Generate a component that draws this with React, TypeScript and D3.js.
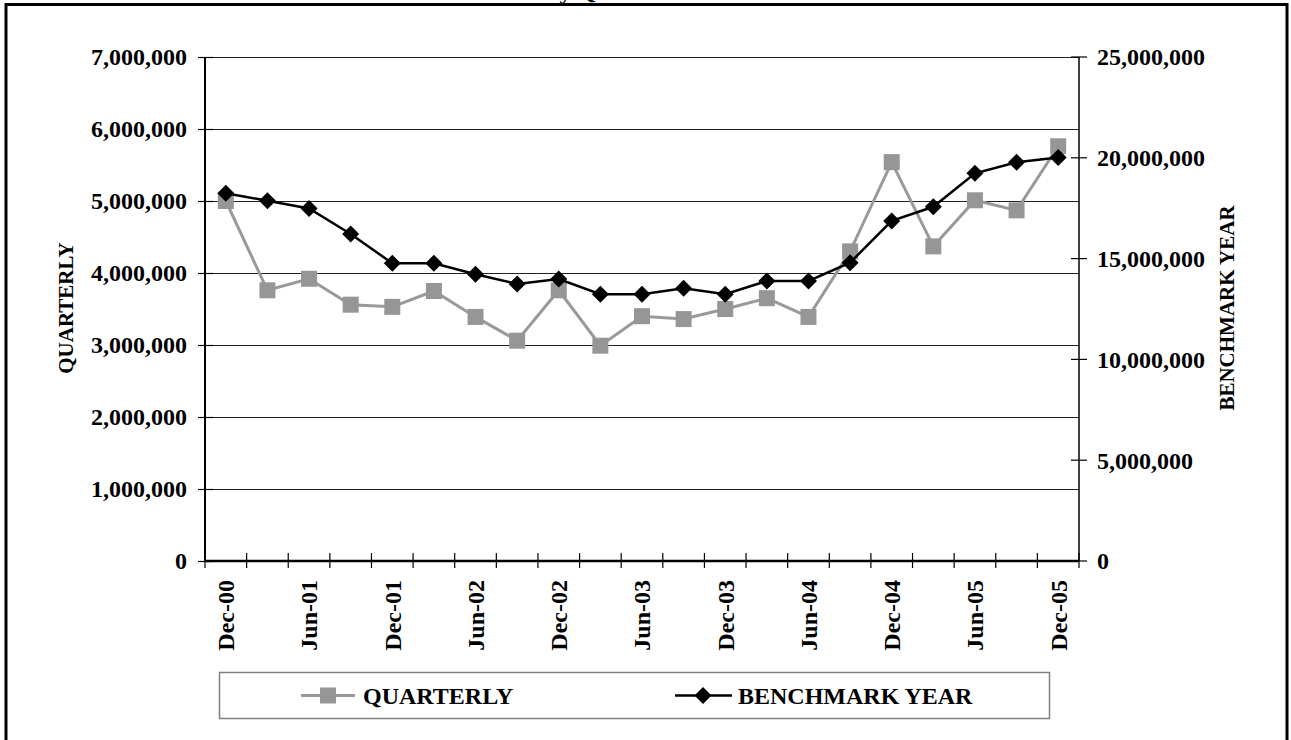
import React from "react";
import * as d3 from "d3";

const categories = [
  "Dec-00", "Mar-01", "Jun-01", "Sep-01", "Dec-01", "Mar-02", "Jun-02", "Sep-02",
  "Dec-02", "Mar-03", "Jun-03", "Sep-03", "Dec-03", "Mar-04", "Jun-04", "Sep-04",
  "Dec-04", "Mar-05", "Jun-05", "Sep-05", "Dec-05",
];
const quarterly = [
  5000000, 3760000, 3920000, 3560000, 3530000, 3750000, 3390000, 3060000,
  3760000, 2990000, 3400000, 3360000, 3500000, 3650000, 3390000, 4300000,
  5540000, 4370000, 5010000, 4870000, 5760000,
];
const benchmark = [
  18240000, 17870000, 17490000, 16220000, 14770000, 14770000, 14220000, 13740000,
  13990000, 13230000, 13230000, 13530000, 13230000, 13890000, 13890000, 14800000,
  16870000, 17570000, 19230000, 19780000, 20020000,
];
const leftTicks = [0, 1000000, 2000000, 3000000, 4000000, 5000000, 6000000, 7000000];
const rightTicks = [0, 5000000, 10000000, 15000000, 20000000, 25000000];
const xLabelEvery = 2;
const seriesNames = ["QUARTERLY", "BENCHMARK YEAR"];
const titleText = "Total Monthly QCEW";

const FONT = "'Liberation Serif', 'Times New Roman', serif";

export default function App() {
  const left = 205, right = 1079, top = 57, bottom = 561;
  const x = d3.scaleBand<string>().domain(categories).range([left, right]).paddingInner(0).paddingOuter(0);
  const yL = d3.scaleLinear().domain([0, 7000000]).range([bottom, top]);
  const yR = d3.scaleLinear().domain([0, 25000000]).range([bottom, top]);
  const cx = (c: string) => (x(c) as number) + x.bandwidth() / 2;
  const fmt = d3.format(",");

  const lineQ = d3.line<number>().x((_, i) => cx(categories[i])).y((v) => yL(v));
  const lineB = d3.line<number>().x((_, i) => cx(categories[i])).y((v) => yR(v));

  const boundaries = d3.range(categories.length + 1).map((i) => left + i * x.bandwidth());
  const diamond = (px: number, py: number, r: number) =>
    `M${px},${py - r}L${px + r},${py}L${px},${py + r}L${px - r},${py}Z`;

  const legendY = 695.5;

  return (
    <svg
      width={1291}
      height={740}
      style={{ position: "absolute", left: 0, top: 0, overflow: "visible", background: "#fff" }}
      fontFamily={FONT}
      fontWeight="bold"
    >
      <rect x={0} y={0} width={1291} height={740} fill="#fff" />
      {/* title mostly clipped at the top, as in the reference */}
      <text x={425} y={-1} fontSize={24} fill="#000">{titleText}</text>
      {/* outer frame */}
      <rect x={6} y={4.5} width={1281} height={800} fill="none" stroke="#000" strokeWidth={3} />

      {/* gridlines */}
      {leftTicks.filter((t) => t > 0).map((t) => (
        <line key={"g" + t} x1={left} x2={right} y1={Math.round(yL(t)) + 0.5} y2={Math.round(yL(t)) + 0.5}
          stroke="#222" strokeWidth={1} shapeRendering="crispEdges" />
      ))}

      {/* left axis */}
      <line x1={left} x2={left} y1={top} y2={bottom} stroke="#000" strokeWidth={2} />
      {leftTicks.map((t) => (
        <g key={"l" + t}>
          <line x1={198} x2={213} y1={Math.round(yL(t)) + 0.5} y2={Math.round(yL(t)) + 0.5} stroke="#000" strokeWidth={1.2} />
          <text x={187} y={yL(t)} dy="0.35em" textAnchor="end" fontSize={24}>{fmt(t)}</text>
        </g>
      ))}
      <text transform={`translate(66,308) rotate(-90)`} dy="0.35em" textAnchor="middle" fontSize={21}>
        {seriesNames[0]}
      </text>

      {/* right axis */}
      <line x1={right} x2={right} y1={top} y2={bottom} stroke="#000" strokeWidth={1.5} />
      {rightTicks.map((t) => (
        <g key={"r" + t}>
          <line x1={1071} x2={1087} y1={yR(t)} y2={yR(t)} stroke="#000" strokeWidth={1.2} />
          <text x={1097} y={yR(t)} dy="0.35em" textAnchor="start" fontSize={24}>{fmt(t)}</text>
        </g>
      ))}
      <text transform={`translate(1227,308) rotate(-90)`} dy="0.35em" textAnchor="middle" fontSize={21}>
        {seriesNames[1]}
      </text>

      {/* x axis */}
      <line x1={left} x2={right} y1={bottom} y2={bottom} stroke="#000" strokeWidth={2.5} />
      {boundaries.map((bx, i) => (
        <line key={"xt" + i} x1={bx} x2={bx} y1={553} y2={568} stroke="#000" strokeWidth={1.2} />
      ))}
      {categories.map((c, i) =>
        i % xLabelEvery === 0 ? (
          <text
            key={"xl" + c}
            transform={`translate(${cx(c)},580) rotate(-90)`}
            dy="0.35em"
            textAnchor="end"
            fontSize={24}
          >
            {c}
          </text>
        ) : null
      )}

      {/* quarterly series */}
      <path d={lineQ(quarterly) || ""} fill="none" stroke="#999999" strokeWidth={3} />
      {quarterly.map((v, i) => (
        <rect key={"q" + i} x={cx(categories[i]) - 8} y={yL(v) - 8} width={16} height={16} fill="#969696" />
      ))}

      {/* benchmark series */}
      <path d={lineB(benchmark) || ""} fill="none" stroke="#000" strokeWidth={2.5} />
      {benchmark.map((v, i) => (
        <path key={"b" + i} d={diamond(cx(categories[i]), yR(v), 8.5)} fill="#000" />
      ))}

      {/* legend */}
      <rect x={219.5} y={672.5} width={830} height={46} fill="#fff" stroke="#808080" strokeWidth={1.5} />
      <line x1={301} x2={355} y1={legendY} y2={legendY} stroke="#999999" strokeWidth={3} />
      <rect x={320} y={legendY - 8} width={16} height={16} fill="#969696" />
      <text x={363} y={legendY} dy="0.35em" fontSize={24}>{seriesNames[0]}</text>
      <line x1={675} x2={732} y1={legendY} y2={legendY} stroke="#000" strokeWidth={2.5} />
      <path d={diamond(703, legendY, 8.5)} fill="#000" />
      <text x={738} y={legendY} dy="0.35em" fontSize={24}>{seriesNames[1]}</text>
    </svg>
  );
}
